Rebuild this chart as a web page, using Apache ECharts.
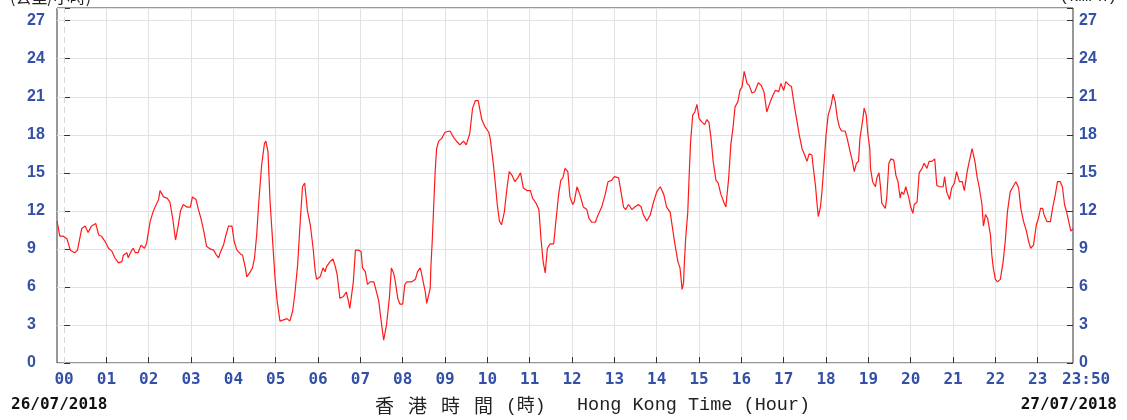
<!DOCTYPE html>
<html>
<head>
<meta charset="utf-8">
<script src="https://cdn.jsdelivr.net/npm/echarts@6/dist/echarts.min.js"></script>
<style>
html,body{margin:0;padding:0;background:#fff;}
#chart{width:1127px;height:420px;}
</style>
</head>
<body>
<div id="chart"></div>
<script>
// time in minutes from 00:00 of 26/07/2018
const times = [
-10,-6,-1,4,9,15,19,25,30,34,39,45,49,53,58,63,68,72,77,82,84,89,91,95,98,101,105,109,114,117,
122,126,129,134,136,141,146,150,154,158,162,165,169,174,179,182,187,190,194,198,202,207,212,216,219,222,226,229,233,238,
241,245,250,253,257,259,263,267,270,273,276,280,284,286,289,292,296,299,302,306,311,316,320,324,327,331,335,338,341,345,
349,353,356,358,363,367,370,372,377,381,384,387,391,396,400,403,405,410,413,417,421,423,427,430,434,439,441,446,449,453,
455,457,461,464,467,469,473,476,480,483,486,493,498,501,505,508,512,514,516,519,520,522,524,526,528,531,535,540,547,552,
557,561,566,570,575,579,583,587,592,597,602,604,608,611,614,617,620,624,628,631,635,639,643,647,651,656,661,664,669,673,
676,679,682,685,689,694,697,701,704,707,710,714,717,721,723,727,731,736,741,744,748,753,757,762,767,771,776,780,786,790,
793,796,800,805,809,814,818,821,826,831,835,840,845,850,854,859,862,866,870,873,876,878,879,881,884,886,888,891,894,897,
900,904,908,911,914,917,920,924,927,931,935,938,942,945,948,951,955,958,961,964,968,971,975,979,984,988,992,996,999,1003,
1008,1013,1016,1020,1023,1028,1031,1035,1039,1042,1046,1049,1053,1056,1060,1062,1065,1067,1069,1072,1074,1077,1080,1083,1087,1090,1093,1096,1099,1102,
1107,1110,1114,1117,1120,1123,1126,1128,1132,1134,1137,1139,1142,1143,1146,1150,1152,1155,1157,1159,1164,1166,1169,1172,1176,1179,1182,1185,1187,1190,
1193,1197,1200,1203,1205,1209,1212,1216,1219,1223,1226,1230,1234,1237,1241,1246,1248,1251,1255,1258,1262,1265,1269,1273,1276,1280,1283,1287,1289,1291,
1294,1297,1301,1303,1306,1309,1313,1315,1317,1320,1323,1327,1331,1334,1337,1341,1345,1349,1353,1356,1360,1364,1367,1370,1374,1378,1381,1384,1387,1389,
1393,1398,1401,1405,1408,1412,1415,1418,1421,1425,1427,1430
];
// 10-minute mean wind speed (km/h)
const speeds = [
11.2,10.0,10.0,9.8,8.9,8.7,8.9,10.6,10.8,10.3,10.8,11.0,10.1,10.0,9.6,9.05,8.8,8.3,7.9,8.0,8.5,8.7,8.3,8.8,9.05,8.7,8.7,9.3,9.05,9.45,
11.15,11.9,12.3,12.9,13.6,13.1,13.0,12.7,11.4,9.7,10.9,12.0,12.5,12.3,12.3,13.1,12.9,12.2,11.4,10.4,9.2,9.0,8.9,8.5,8.3,8.8,9.3,10.0,10.8,10.8,
9.6,8.9,8.6,8.5,7.5,6.8,7.1,7.5,8.3,10.1,12.7,15.6,17.3,17.5,16.7,12.7,9.3,6.7,4.9,3.3,3.4,3.5,3.3,4.1,5.4,7.7,11.4,13.9,14.2,12.0,
10.9,9.05,7.2,6.6,6.8,7.5,7.2,7.6,8.0,8.2,7.7,7.0,5.1,5.25,5.6,4.9,4.3,6.4,8.9,8.9,8.8,7.5,7.2,6.2,6.4,6.4,6.0,4.9,3.5,1.8,
1.8,3.0,5.1,7.5,7.1,6.6,5.1,4.65,4.65,6.2,6.4,6.4,6.6,7.2,7.5,6.7,5.6,4.7,4.7,5.9,7.7,9.8,12.5,15.1,16.9,17.5,17.7,18.2,18.3,17.8,
17.45,17.2,17.5,17.2,18.1,20.1,20.7,20.7,19.2,18.6,18.2,17.7,15.9,14.3,12.5,11.2,10.9,11.9,13.9,15.1,14.8,14.3,14.6,15.0,13.8,13.6,13.6,13.0,12.6,12.1,
9.8,8.0,7.1,9.05,9.4,9.4,11.15,13.3,14.4,14.6,15.35,15.1,13.1,12.5,12.7,13.9,13.3,12.3,12.1,11.4,11.1,11.1,11.7,12.3,13.3,14.3,14.4,14.7,14.6,13.3,
12.3,12.1,12.5,12.1,12.3,12.5,12.3,11.7,11.2,11.7,12.6,13.5,13.9,13.3,12.3,11.9,10.8,9.3,8.0,7.5,5.8,6.3,7.7,9.8,11.9,14.8,17.45,19.55,19.8,20.4,
19.3,19.0,18.8,19.2,19.0,17.7,15.9,14.4,14.2,13.3,12.7,12.3,14.6,17.2,18.5,20.2,20.6,21.5,21.8,23.0,22.05,21.9,21.3,21.4,22.1,21.9,21.4,19.8,20.3,20.9,
21.5,21.4,22.05,21.5,22.2,21.9,21.8,20.3,19.0,18.0,16.9,16.5,15.9,16.5,16.4,15.35,14.0,12.7,11.55,12.3,13.4,15.6,18.0,19.55,20.3,21.2,20.6,19.3,18.6,18.3,
18.3,17.7,16.7,16.0,15.1,15.75,15.9,17.7,19.2,20.1,19.55,18.2,16.9,15.35,14.3,13.9,14.6,15.0,14.0,12.6,12.2,13.0,15.75,16.1,16.0,14.8,14.3,13.0,13.5,13.3,
13.9,13.1,12.3,11.8,12.5,12.7,15.0,15.35,15.75,15.35,15.9,15.9,16.1,14.0,13.9,13.9,14.7,13.5,12.9,13.8,14.2,15.1,14.3,14.3,13.6,15.1,15.9,16.9,16.4,15.9,
14.7,13.9,12.5,10.8,11.7,11.4,10.1,8.5,7.5,6.6,6.4,6.6,8.0,9.6,11.9,13.5,13.9,14.3,13.8,12.2,11.15,10.4,9.6,9.05,9.3,10.9,11.4,12.2,12.2,11.7,
11.15,11.15,12.2,13.3,14.3,14.3,13.9,12.5,11.9,10.9,10.4,10.6
];
const hourLabels = ['00','01','02','03','04','05','06','07','08','09','10','11',
                    '12','13','14','15','16','17','18','19','20','21','22','23'];
const endLabel = '23:50';
const startDate = '26/07/2018';
const endDate = '27/07/2018';
const yTicks = [0,3,6,9,12,15,18,21,24,27];
const titleCJK = ['香','港','時','間','(時)'];
const titleEN = 'Hong Kong Time (Hour)';
const unitCJK = '(公里/小時)';
const unitEN = '(km/h)';

// category slots every 10 minutes from -10 to 1430
const xCats = [];
for (let m = -10; m <= 1430; m += 10) {
  if (m >= 0 && m % 60 === 0) xCats.push(hourLabels[m / 60]);
  else xCats.push('');
}
const seriesData = times.map((t, i) => [t, speeds[i]]);

const BLUE = '#3450a6';
const chart = echarts.init(document.getElementById('chart'), null, {renderer: 'canvas'});
const yAxisBase = {
  type: 'value', min: 0, max: 28, interval: 3,
  axisLine: {show: false},
  axisTick: {show: true, inside: true, length: 6, lineStyle: {color: '#333', width: 1}},
  axisLabel: {
    color: BLUE, fontWeight: 'bold', fontSize: 16, fontFamily: 'Liberation Sans',
    margin: 30, align: 'left',
    formatter: v => (yTicks.indexOf(v) >= 0 ? String(v) : '')
  }
};
const isHour = (idx, val) => val !== '';
chart.setOption({
  animation: false,
  backgroundColor: '#fff',
  grid: {left: 57, right: 54, top: 8, bottom: 57, show: true, borderColor: '#333', borderWidth: 1, backgroundColor: 'transparent'},
  xAxis: [{
    type: 'category', data: xCats, boundaryGap: false, position: 'bottom',
    axisLine: {show: false},
    axisTick: {show: true, inside: true, length: 6, interval: isHour, lineStyle: {color: '#333'}},
    axisLabel: {show: true, interval: isHour, color: BLUE, fontWeight: 'bold', fontSize: 16,
                fontFamily: 'DejaVu Sans Mono', margin: 9},
    splitLine: {show: true, interval: (idx, val) => val !== '' && val !== '00', lineStyle: {color: '#e2e2e2', width: 1}}
  }, {
    type: 'value', min: -10, max: 1430, show: false
  }],
  yAxis: [
    Object.assign({}, yAxisBase, {position: 'left', splitLine: {show: true, lineStyle: {color: '#e2e2e2', width: 1}}}),
    Object.assign({}, yAxisBase, {position: 'right', splitLine: {show: false},
      axisLabel: Object.assign({}, yAxisBase.axisLabel, {margin: 6, align: 'left'})})
  ],
  series: [{
    type: 'line', xAxisIndex: 1, yAxisIndex: 0, data: seriesData,
    showSymbol: false, symbol: 'none',
    lineStyle: {color: '#ff1a1a', width: 1.2},
    markLine: {
      silent: true, symbol: 'none', label: {show: false},
      lineStyle: {color: '#d8d8d8', type: [6, 4], width: 1},
      data: [{xAxis: 0}]
    },
    z: 5
  }],
  graphic: [
    {type: 'text', x: 11, y: 405, style: {text: startDate, font: 'bold 16px "DejaVu Sans Mono"', fill: '#111', align: 'left', verticalAlign: 'middle', textAlign: 'left', textVerticalAlign: 'middle'}},
    {type: 'text', x: 1117, y: 405, style: {text: endDate, font: 'bold 16px "DejaVu Sans Mono"', fill: '#111', align: 'right', verticalAlign: 'middle', textAlign: 'right', textVerticalAlign: 'middle'}},
    {type: 'text', x: 1062, y: 380, style: {text: endLabel, font: 'bold 16px "DejaVu Sans Mono"', fill: BLUE, align: 'left', verticalAlign: 'middle', textAlign: 'left', textVerticalAlign: 'middle'}},
    {type: 'text', x: 375, y: 406, style: {text: titleCJK[0], font: '19px "Noto Sans CJK TC"', fill: '#222', align: 'left', verticalAlign: 'middle', textAlign: 'left', textVerticalAlign: 'middle'}},
    {type: 'text', x: 408, y: 406, style: {text: titleCJK[1], font: '19px "Noto Sans CJK TC"', fill: '#222', align: 'left', verticalAlign: 'middle', textAlign: 'left', textVerticalAlign: 'middle'}},
    {type: 'text', x: 441, y: 406, style: {text: titleCJK[2], font: '19px "Noto Sans CJK TC"', fill: '#222', align: 'left', verticalAlign: 'middle', textAlign: 'left', textVerticalAlign: 'middle'}},
    {type: 'text', x: 474, y: 406, style: {text: titleCJK[3], font: '19px "Noto Sans CJK TC"', fill: '#222', align: 'left', verticalAlign: 'middle', textAlign: 'left', textVerticalAlign: 'middle'}},
    {type: 'text', x: 506, y: 406, style: {text: titleCJK[4], font: '18px "Liberation Mono", "Noto Sans CJK TC"', fill: '#222', align: 'left', verticalAlign: 'middle', textAlign: 'left', textVerticalAlign: 'middle'}},
    {type: 'text', x: 577, y: 405, style: {text: titleEN, font: '18.5px "Liberation Mono"', fill: '#222', align: 'left', verticalAlign: 'middle', textAlign: 'left', textVerticalAlign: 'middle'}},
    {type: 'text', x: 10, y: -3, style: {text: unitCJK, font: '16px "Noto Sans CJK TC"', fill: '#222', align: 'left', verticalAlign: 'middle', textAlign: 'left', textVerticalAlign: 'middle'}},
    {type: 'text', x: 1117, y: -3, style: {text: unitEN, font: '16px "Liberation Mono"', fill: '#222', align: 'right', verticalAlign: 'middle', textAlign: 'right', textVerticalAlign: 'middle'}}
  ]
});
</script>
</body>
</html>
